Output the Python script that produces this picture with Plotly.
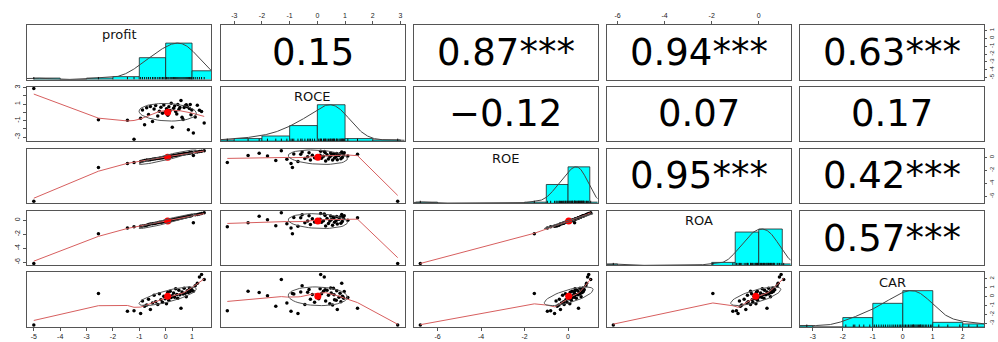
import numpy as np
import plotly.graph_objects as go

# ---------------- data ----------------
var_names = ["profit", "ROCE", "ROE", "ROA", "CAR"]

profit = [-5.0, -2.55, -1.45, -1.2,
          -0.95, -0.88, -0.80, -0.72, -0.65, -0.58, -0.50, -0.44, -0.38, -0.30, -0.24, -0.18, -0.12, -0.07, -0.02,
          0.03, 0.08, 0.12, 0.17, 0.21, 0.25, 0.30, 0.34, 0.38, 0.42, 0.46, 0.50, 0.54, 0.58, 0.62, 0.66, 0.70,
          0.74, 0.78, 0.82, 0.86, 0.90, 0.93, 0.96, 0.99,
          1.05, 1.12, 1.20, 1.28, 1.36, 1.46]

ROCE = [2.9, -0.9, -0.95, -3.25,
        -0.7, 0.3, -1.5, 0.55, -0.25, 0.72, -1.1, 0.4, 0.85, -0.45, 0.15, 0.62, -0.1, 0.9, 0.05,
        0.45, -0.35, 0.68, 0.22, 1.1, -1.8, 0.5, 0.78, 0.1, -0.18, 0.95, 0.35, 0.6, 1.45, -0.6, -0.85, 0.58,
        0.82, 0.92, 0.7, -2.1, 0.48, 0.97, -0.3, 0.28,
        -2.5, -0.55, 0.88, 0.25, 0.12, -1.3]

ROE = [-6.79, -1.55, -0.95, -0.8,
       -0.62, -0.55, -0.5, -0.42, -0.4, -0.35, -0.3, -0.25, -0.2, -0.18, -0.12, -0.1, -0.05, -0.02, 0.03,
       0.08, 0.1, 0.15, 0.18, 0.2, 0.22, 0.28, 0.3, 0.32, 0.35, 0.38, 0.42, 0.45, 0.48, 0.5, 0.52, 0.55,
       0.58, 0.6, 0.62, 0.65, 0.68, 0.7, 0.72, 0.74,
       0.3, 0.82, 0.85, 0.9, 0.95, 1.04]

ROA = [-6.18, -1.95, -1.1, -0.95,
       -0.88, -0.82, -0.78, -0.72, -0.62, -0.55, -0.5, -0.48, -0.45, -0.35, -0.3, -0.28, -0.25, -0.2, -0.15,
       -0.12, -0.1, -0.05, -0.06, -0.02, 0.05, 0.08, 0.12, 0.15, 0.2, 0.22, 0.25, 0.3, 0.35, 0.35, 0.4, 0.42,
       0.45, 0.5, 0.52, 0.55, 0.6, 0.62, 0.65, 0.68,
       -0.35, 0.78, 0.82, 0.88, 0.95, 1.06]

CAR = [-3.2, 0.35, -1.65, -1.6,
       -1.9, -0.5, -1.1, -0.95, -0.3, -1.45, -0.72, 0.14, -0.58, -0.88, 0.32, -0.36, -0.65, 0.04, -0.24,
       -0.8, 0.48, -0.43, 0.6, -0.12, 0.09, 0.4, -0.07, 0.86, 0.24, -0.18, 0.7, 0.19, -1.3, 0.52, 0.28, 0.92,
       0.36, -0.02, 0.65, 0.44, 0.97, 0.56, 0.8, 0.75,
       0.6, 1.2, 1.5, 2.2, 2.48, 1.9]

# upper-triangle correlation labels, row by row
cor_labels = ["0.15", "0.87***", "0.94***", "0.63***",
              "\u22120.12", "0.07", "0.17",
              "0.95***", "0.42***",
              "0.57***"]

tick_vals = {
    "profit": [-5, -4, -3, -2, -1, 0, 1],
    "ROCE": [-3, -2, -1, 0, 1, 2, 3],
    "ROE": [-6, -4, -2, 0],
    "ROA": [-6, -4, -2, 0],
    "CAR": [-3, -2, -1, 0, 1, 2],
}
tick_text = {
    "profit": ["-5", "-4", "-3", "-2", "-1", "0", "1"],
    "ROCE": ["-3", "-2", "-1", "0", "1", "2", "3"],
    "ROE": ["-6", "-4", "-2", "0"],
    "ROA": ["-6", "-4", "-2", "0"],
    "CAR": ["-3", "-2", "-1", "0", "1", "2"],
}
tick_text_left = {"ROCE": ["-3", "", "-1", "", "1", "", "3"]}

# ---------------- helpers ----------------
data = [np.array(v, dtype=float) for v in (profit, ROCE, ROE, ROA, CAR)]


def data_range(v):
    lo, hi = v.min(), v.max()
    s = hi - lo
    return [lo - 0.04 * s, hi + 0.04 * s]


def clowess(x, y, f=2 / 3, nsteps=3):
    """Port of R's stats::lowess (clowess)."""
    o = np.argsort(x, kind="mergesort")
    x = np.asarray(x, float)[o]
    y = np.asarray(y, float)[o]
    n = len(x)
    delta = 0.01 * (x[-1] - x[0])
    ns = max(2, min(n, int(f * n + 1e-7)))
    rw = np.ones(n)
    ys = np.zeros(n)
    rx = x[-1] - x[0]

    def lowest(xs, nleft, nright, userw):
        h = max(xs - x[nleft], x[nright] - xs)
        h9, h1 = 0.999 * h, 0.001 * h
        w = np.zeros(n)
        a = 0.0
        j = nleft
        while j < n:
            r = abs(x[j] - xs)
            if r <= h9:
                w[j] = 1.0 if r <= h1 else (1 - (r / h) ** 3) ** 3
                if userw:
                    w[j] *= rw[j]
                a += w[j]
            elif x[j] > xs:
                break
            j += 1
        nrt = j - 1
        if a <= 0:
            return None
        sl = slice(nleft, nrt + 1)
        w[sl] /= a
        if h > 0:
            aa = np.sum(w[sl] * x[sl])
            b = xs - aa
            c = np.sum(w[sl] * (x[sl] - aa) ** 2)
            if np.sqrt(c) > 0.001 * rx:
                b /= c
                w[sl] *= (b * (x[sl] - aa) + 1)
        return np.sum(w[sl] * y[sl])

    it = 1
    while it <= nsteps + 1:
        nleft, nright, last, i = 0, ns - 1, -1, 0
        while True:
            if nright < n - 1:
                if x[i] - x[nleft] > x[nright + 1] - x[i]:
                    nleft += 1
                    nright += 1
                    continue
            val = lowest(x[i], nleft, nright, it > 1)
            ys[i] = y[i] if val is None else val
            if last < i - 1:
                denom = x[i] - x[last]
                for j in range(last + 1, i):
                    al = (x[j] - x[last]) / denom
                    ys[j] = al * ys[i] + (1 - al) * ys[last]
            last = i
            cut = x[last] + delta
            i = last + 1
            while i < n:
                if x[i] > cut:
                    break
                if x[i] == x[last]:
                    ys[i] = ys[last]
                    last = i
                i += 1
            i = max(last + 1, i - 1)
            if last >= n - 1:
                break
        res = y - ys
        sc = np.sum(np.abs(res)) / n
        if it > nsteps:
            break
        ar = np.abs(res)
        cmad = 6 * np.median(ar)
        if cmad < 1e-7 * sc:
            break
        rw = np.where(ar <= 0.001 * cmad, 1.0,
                      np.where(ar <= 0.999 * cmad, (1 - (ar / cmad) ** 2) ** 2, 0.0))
        it += 1
    return x, ys


def density(v, adjust=1.2):
    n = len(v)
    sd = v.std(ddof=1)
    q75, q25 = np.percentile(v, [75, 25])
    bw = 1.06 * min(sd, (q75 - q25) / 1.34) * n ** (-0.2) * adjust
    g = np.linspace(v.min() - 3 * bw, v.max() + 3 * bw, 512)
    d = np.exp(-0.5 * ((g[:, None] - v[None, :]) / bw) ** 2).sum(axis=1)
    return g, d / d.max()


def hist(v):
    lo, hi = np.floor(v.min()), np.ceil(v.max())
    edges = np.arange(lo, hi + 1)
    counts = []
    for k in range(len(edges) - 1):
        a, b = edges[k], edges[k + 1]
        c = ((v > a) & (v <= b)).sum()
        if k == 0:
            c += (v == a).sum()
        counts.append(c)
    return edges, np.array(counts, float)


def ellipse(xv, yv, seg=51):
    xm, ym = xv.mean(), yv.mean()
    xs, ys = xv.std(ddof=1), yv.std(ddof=1)
    r = np.corrcoef(xv, yv)[0, 1]
    ang = np.arange(seg + 1) * 2 * np.pi / seg
    circ = np.column_stack([np.cos(ang), np.sin(ang)])
    th = np.sign(r) / np.sqrt(2) if abs(r) > 0 else 1 / np.sqrt(2)
    shape = np.diag([np.sqrt(1 + r), np.sqrt(1 - r)]) @ np.array([[th, th], [-th, th]])
    e = circ @ shape
    return e[:, 0] * xs + xm, e[:, 1] * ys + ym, xm, ym


# ---------------- layout geometry ----------------
W, H = 998, 342
col_left = [27, 220.5, 413.5, 606.5, 800]
row_top = [23, 85, 147.5, 210, 272]
PW, PH = 184, 55

tick_font = dict(family="Liberation Sans, Arial, sans-serif", size=7, color="#222")
line_col = "#555"

fig = go.Figure()
layout = dict(width=W, height=H, margin=dict(l=0, r=0, t=0, b=0), autosize=False,
              paper_bgcolor="white", plot_bgcolor="white", showlegend=False,
              annotations=[])

ranges = [data_range(v) for v in data]
cor_iter = iter(cor_labels)

for i in range(5):
    for j in range(5):
        k = i * 5 + j + 1
        xa = "x" if k == 1 else f"x{k}"
        ya = "y" if k == 1 else f"y{k}"
        xkey = "xaxis" if k == 1 else f"xaxis{k}"
        ykey = "yaxis" if k == 1 else f"yaxis{k}"
        x0 = col_left[j] / W
        x1 = (col_left[j] + PW) / W
        y1 = 1 - row_top[i] / H
        y0 = 1 - (row_top[i] + PH) / H

        base = dict(showline=True, mirror=True, linecolor=line_col, linewidth=1,
                    showgrid=False, zeroline=False, ticks="", showticklabels=False,
                    fixedrange=True)
        xaxis = dict(base, domain=[x0, x1], anchor=ya, range=ranges[j])
        yrange = [0, 1.5] if i == j else ranges[i]
        yaxis = dict(base, domain=[y0, y1], anchor=xa, range=yrange)

        vx = var_names[j]
        vy = var_names[i]
        if i == 4 and j in (0, 2, 4):
            xaxis.update(ticks="outside", ticklen=3, tickcolor=line_col, showticklabels=True,
                         tickvals=tick_vals[vx], ticktext=tick_text[vx], tickfont=tick_font,
                         side="bottom")
        if i == 0 and j in (1, 3):
            xaxis.update(ticks="outside", ticklen=3, tickcolor=line_col, showticklabels=True,
                         tickvals=tick_vals[vx], ticktext=tick_text[vx], tickfont=tick_font,
                         side="top")
        if j == 0 and i in (1, 3):
            yaxis.update(ticks="outside", ticklen=3, tickcolor=line_col, showticklabels=True,
                         tickvals=tick_vals[vy], ticktext=tick_text_left.get(vy, tick_text[vy]),
                         tickfont=tick_font, side="left", tickangle=-90)
        if j == 4 and i in (0, 2):
            yaxis.update(ticks="outside", ticklen=2, tickcolor=line_col, showticklabels=True,
                         tickvals=tick_vals[vy], ticktext=tick_text[vy],
                         tickfont=dict(tick_font, size=6), side="right", tickangle=-90)
        layout[xkey] = xaxis
        layout[ykey] = yaxis

        if i == j:
            v = data[i]
            edges, counts = hist(v)
            fig.add_trace(go.Bar(x=(edges[:-1] + edges[1:]) / 2, y=counts / counts.max(),
                                 width=np.diff(edges),
                                 marker=dict(color="#00FFFF", line=dict(color="#222", width=0.8)),
                                 xaxis=xa, yaxis=ya, hoverinfo="skip"))
            g, d = density(v)
            fig.add_trace(go.Scatter(x=g, y=d, mode="lines", line=dict(color="#444", width=1),
                                     xaxis=xa, yaxis=ya, hoverinfo="skip"))
            rx, ry = [], []
            for val in v:
                rx += [val, val, None]
                ry += [0, 0.07, None]
            fig.add_trace(go.Scatter(x=rx, y=ry, mode="lines", line=dict(color="#111", width=1),
                                     xaxis=xa, yaxis=ya, hoverinfo="skip"))
            layout["annotations"].append(dict(
                text=var_names[i], xref=f"{xa} domain", yref=f"{ya} domain", x=0.5, y=0.82,
                xanchor="center", yanchor="middle", showarrow=False,
                font=dict(family="DejaVu Sans, sans-serif", size=13, color="#111")))
        elif i > j:
            xv, yv = data[j], data[i]
            fig.add_trace(go.Scatter(x=xv, y=yv, mode="markers",
                                     marker=dict(color="black", size=3.5),
                                     xaxis=xa, yaxis=ya, hoverinfo="skip"))
            lx, ly = clowess(xv, yv, nsteps=0)
            fig.add_trace(go.Scatter(x=lx, y=ly, mode="lines",
                                     line=dict(color="rgb(215,95,95)", width=1),
                                     xaxis=xa, yaxis=ya, hoverinfo="skip"))
            ex, ey, xm, ym = ellipse(xv, yv)
            fig.add_trace(go.Scatter(x=[xm], y=[ym], mode="markers",
                                     marker=dict(color="red", size=7),
                                     xaxis=xa, yaxis=ya, hoverinfo="skip"))
            fig.add_trace(go.Scatter(x=ex, y=ey, mode="lines",
                                     line=dict(color="#555", width=1),
                                     xaxis=xa, yaxis=ya, hoverinfo="skip"))
        else:
            fig.add_trace(go.Scatter(x=[None], y=[None], mode="markers",
                                     xaxis=xa, yaxis=ya, hoverinfo="skip"))
            layout["annotations"].append(dict(
                text=next(cor_iter), xref=f"{xa} domain", yref=f"{ya} domain", x=0.5, y=0.5,
                xanchor="center", yanchor="middle", showarrow=False,
                font=dict(family="DejaVu Sans, sans-serif", size=37, color="black")))

# right-hand CAR scale for the last diagonal panel
layout["yaxis26"] = dict(overlaying="y25", side="right", anchor="x25", range=ranges[4],
                         showline=False, showgrid=False, zeroline=False, fixedrange=True,
                         ticks="outside", ticklen=2, tickcolor=line_col, showticklabels=True,
                         tickvals=tick_vals["CAR"], ticktext=tick_text["CAR"],
                         tickfont=dict(tick_font, size=6), tickangle=-90)
fig.add_trace(go.Scatter(x=[None], y=[None], mode="markers", xaxis="x25", yaxis="y26",
                         hoverinfo="skip"))

fig.update_layout(**layout)
fig.write_html("out.html", config={"displayModeBar": False},
               post_script="document.body.style.margin='0px';")
